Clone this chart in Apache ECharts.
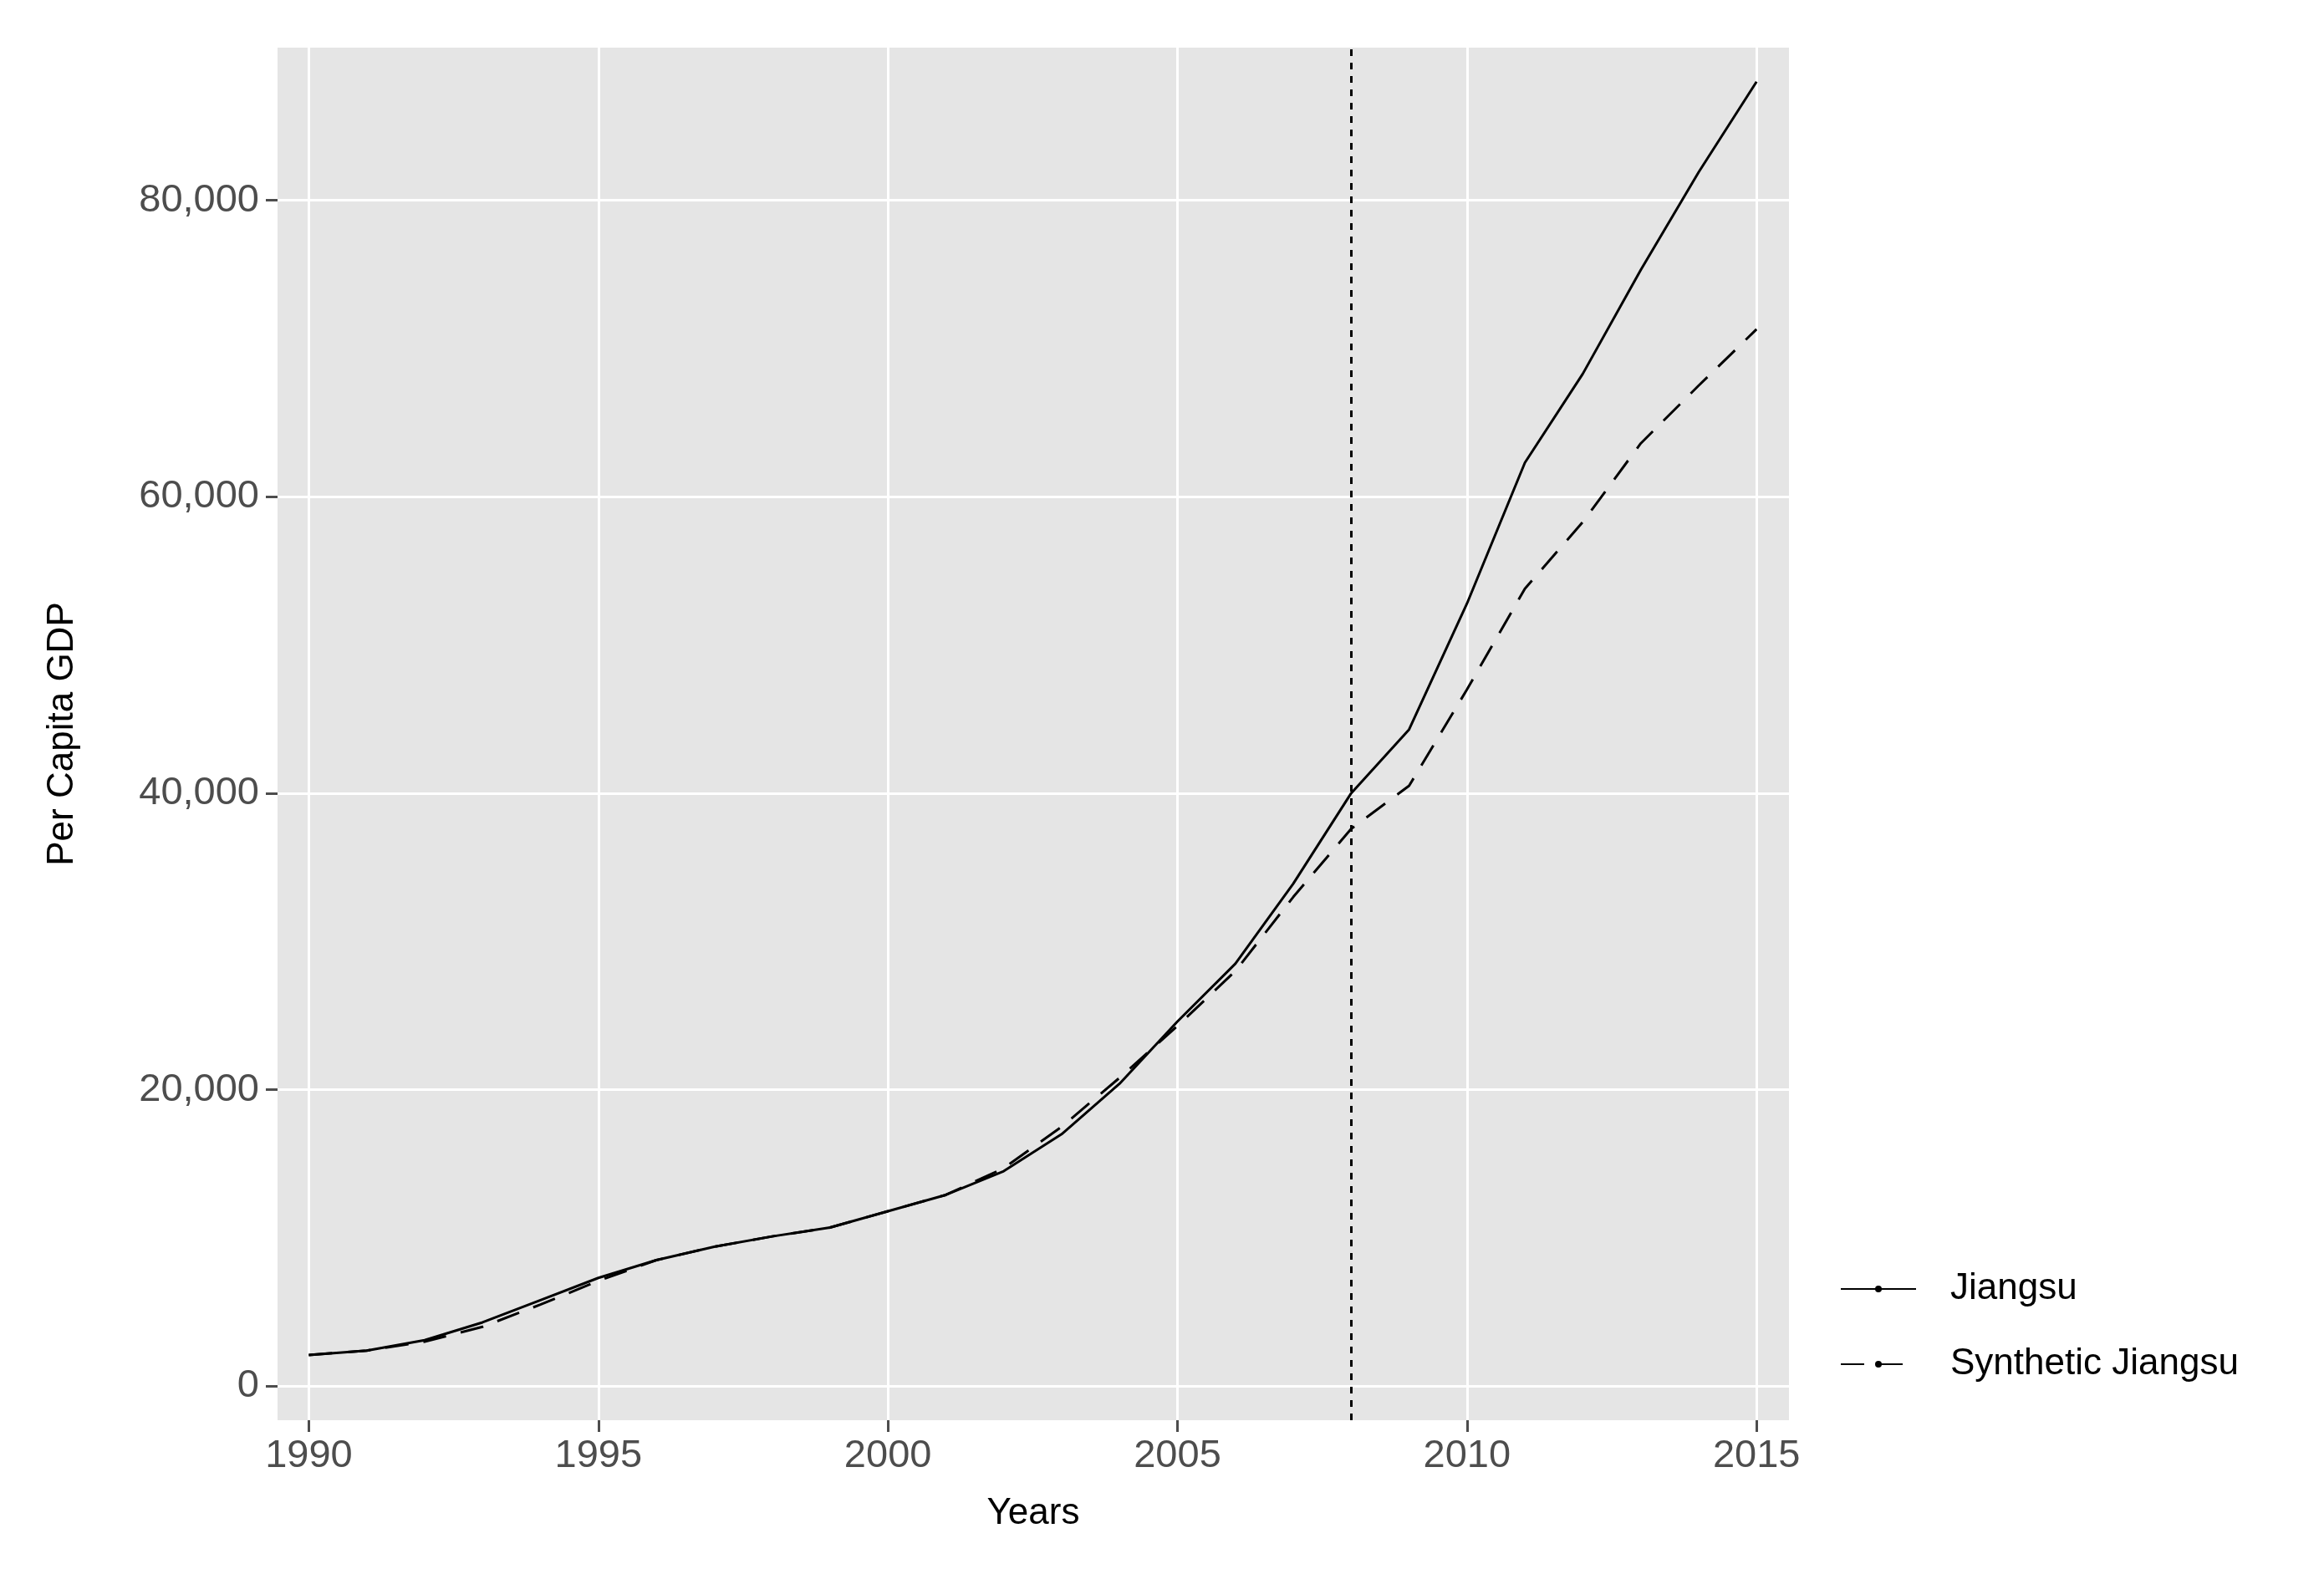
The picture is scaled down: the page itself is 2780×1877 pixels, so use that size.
<!DOCTYPE html>
<html>
<head>
<meta charset="utf-8">
<script src="https://cdn.jsdelivr.net/npm/echarts@6/dist/echarts.min.js"></script>
<style>html,body{margin:0;padding:0;background:#fff}#chart{width:2780px;height:1877px}</style>
</head>
<body>
<div id="chart"></div>
<script>
const years = [1990,1991,1992,1993,1994,1995,1996,1997,1998,1999,2000,2001,2002,2003,2004,2005,2006,2007,2008,2009,2010,2011,2012,2013,2014,2015];
const jiangsu = [2100,2400,3100,4300,5800,7300,8500,9400,10100,10700,11800,12900,14500,17000,20400,24600,28500,33900,40000,44300,52800,62300,68300,75300,81900,88000];
const synthetic = [2100,2400,3000,4000,5500,7100,8500,9400,10100,10700,11800,12900,14700,17500,20800,24300,28000,33000,37600,40500,47000,53800,58300,63600,67500,71300];
const xTicks = [1990,1995,2000,2005,2010,2015];
const yTicks = [0,20000,40000,60000,80000];
const treatYear = 2008;

const chart = echarts.init(document.getElementById('chart'));
const font = 'Arial, Liberation Sans';
const tickFont = {color:'#4d4d4d', fontSize:47, fontFamily:font};
chart.setOption({
  backgroundColor:'#fff',
  animation:false,
  grid:{left:332,right:640,top:57,bottom:178,show:true,backgroundColor:'#e5e5e5',borderWidth:0},
  legend:{
    left:2196, top:1515, orient:'vertical', itemWidth:90, itemHeight:10, itemGap:46,
    textStyle:{color:'#000',fontSize:44,fontFamily:font,padding:[0,0,0,36]},
    data:['Jiangsu','Synthetic Jiangsu']
  },
  xAxis:{
    type:'value', min:1989.46, max:2015.56,
    name:'Years', nameLocation:'middle', nameGap:90,
    nameTextStyle:{color:'#000',fontSize:44,fontFamily:font},
    axisLine:{show:false,onZero:false},
    axisTick:{show:true,customValues:xTicks,length:14,lineStyle:{color:'#4d4d4d',width:3}},
    axisLabel:{customValues:xTicks,...tickFont,margin:20,formatter:v=>String(v)},
    splitLine:{show:true,lineStyle:{color:'#fff',width:3}}
  },
  yAxis:{
    type:'value', min:-2300, max:90300,
    name:'Per Capita GDP', nameLocation:'middle', nameGap:235,
    nameTextStyle:{color:'#000',fontSize:44,fontFamily:font},
    axisLine:{show:false},
    axisTick:{show:true,customValues:yTicks,length:14,lineStyle:{color:'#4d4d4d',width:3}},
    axisLabel:{customValues:yTicks,...tickFont,margin:22,formatter:v=>v.toLocaleString('en-US')},
    splitLine:{show:true,lineStyle:{color:'#fff',width:3}}
  },
  series:[
    {name:'Jiangsu',type:'line',data:years.map((y,i)=>[y,jiangsu[i]]),symbol:'none',
     lineStyle:{color:'#000',width:3},itemStyle:{color:'#000'},
     markLine:{silent:true,symbol:'none',label:{show:false},lineStyle:{color:'#000',type:[8,8],width:3},data:[{xAxis:treatYear}]}},
    {name:'Synthetic Jiangsu',type:'line',data:years.map((y,i)=>[y,synthetic[i]]),symbol:'none',
     lineStyle:{color:'#000',width:3,type:[28,18]},itemStyle:{color:'#000'}}
  ]
});
</script>
</body>
</html>
